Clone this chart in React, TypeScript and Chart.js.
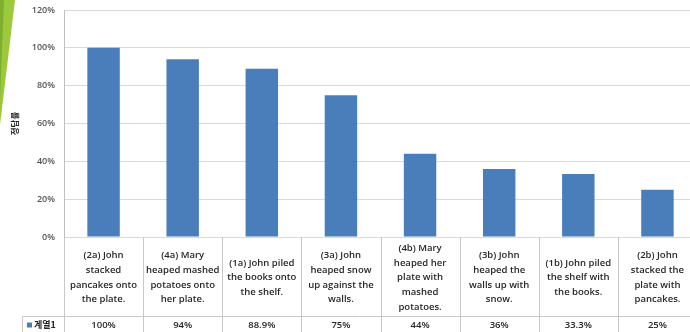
import React, { useEffect, useRef } from "react";
import { Chart, registerables } from "chart.js";

Chart.register(...registerables);

const categories: string[][] = [
  ["(2a) John", "stacked", "pancakes onto", "the plate."],
  ["(4a) Mary", "heaped mashed", "potatoes onto", "her plate."],
  ["(1a) John piled", "the books onto", "the shelf."],
  ["(3a) John", "heaped snow", "up against the", "walls."],
  ["(4b) Mary", "heaped her", "plate with", "mashed", "potatoes."],
  ["(3b) John", "heaped the", "walls up with", "snow."],
  ["(1b) John piled", "the shelf with", "the books."],
  ["(2b) John", "stacked the", "plate with", "pancakes."],
];
const values: number[] = [100, 94, 88.9, 75, 44, 36, 33.3, 25];
const valueLabels: string[] = ["100%", "94%", "88.9%", "75%", "44%", "36%", "33.3%", "25%"];
const seriesName = "계열1";
const axisTitle = "정답률";
const yTicks: number[] = [0, 20, 40, 60, 80, 100, 120];

const BAR = "#4a7ebb";
const LINE = "#c8c8c8";
const FONT = "'Open Sans', 'Noto Sans', sans-serif";

const decorPlugin = {
  id: "decor",
  beforeDraw(chart: any) {
    const ctx = chart.ctx;
    ctx.save();
    ctx.fillStyle = "#9cc83c";
    ctx.beginPath();
    ctx.moveTo(0, 0);
    ctx.lineTo(15, 0);
    ctx.lineTo(0, 125);
    ctx.closePath();
    ctx.fill();
    ctx.fillStyle = "#7fae2e";
    ctx.beginPath();
    ctx.moveTo(0, 0);
    ctx.lineTo(4, 0);
    ctx.lineTo(0, 100);
    ctx.closePath();
    ctx.fill();
    ctx.restore();
  },
};

const tablePlugin = {
  id: "dataTable",
  afterDraw(chart: any) {
    const ctx = chart.ctx;
    const x = chart.scales.x;
    const y = chart.scales.y;
    const n = categories.length;
    const w = (x.right - x.left) / n;
    const top = y.getPixelForValue(0);
    const sep = top + 79;
    const bottom = chart.height;
    ctx.save();
    ctx.strokeStyle = LINE;
    ctx.lineWidth = 1;
    ctx.beginPath();
    ctx.moveTo(22, Math.round(sep) + 0.5);
    ctx.lineTo(chart.width, Math.round(sep) + 0.5);
    ctx.stroke();
    ctx.beginPath();
    ctx.moveTo(22.5, Math.round(sep));
    ctx.lineTo(22.5, bottom);
    ctx.stroke();
    for (let i = 0; i <= n; i++) {
      const bx = Math.round(x.getPixelForValue(0) - w / 2 + i * w) + 0.5;
      ctx.beginPath();
      ctx.moveTo(bx, top);
      ctx.lineTo(bx, bottom);
      ctx.stroke();
    }
    ctx.fillStyle = "#262626";
    ctx.textAlign = "center";
    ctx.textBaseline = "middle";
    ctx.font = `600 9.5px ${FONT}`;
    const lh = 14.7;
    const midLabel = (top + sep) / 2 + 1;
    categories.forEach((lines, i) => {
      const cx = x.getPixelForValue(i);
      const start = midLabel - ((lines.length - 1) * lh) / 2;
      lines.forEach((ln, j) => ctx.fillText(ln, cx, start + j * lh));
      ctx.fillText(valueLabels[i], cx, (sep + bottom) / 2 + 1);
    });
    const ly = (sep + bottom) / 2 + 1;
    ctx.fillStyle = BAR;
    ctx.fillRect(27, ly - 2.5, 5, 5);
    ctx.fillStyle = "#262626";
    ctx.textAlign = "left";
    ctx.font = `600 9px 'Noto Sans CJK KR', ${FONT}`;
    ctx.fillText(seriesName, 34, ly);
    ctx.restore();
  },
};

export default function App() {
  const ref = useRef<HTMLCanvasElement>(null);
  useEffect(() => {
    if (!ref.current) return;
    const chart = new Chart(ref.current, {
      type: "bar",
      data: {
        labels: categories.map((c) => c.join(" ")),
        datasets: [
          {
            label: seriesName,
            data: values,
            backgroundColor: BAR,
            barPercentage: 0.41,
            categoryPercentage: 1,
          },
        ],
      },
      options: {
        responsive: false,
        animation: false,
        layout: { padding: { top: 10, bottom: 95, left: 0, right: 0 } },
        plugins: { legend: { display: false }, tooltip: { enabled: false } },
        scales: {
          x: { display: false },
          y: {
            min: 0,
            max: 120,
            afterFit: (s: any) => {
              s.width = 64;
              s.paddingTop = 0;
              s.paddingBottom = 0;
            },
            afterBuildTicks: (s: any) => {
              s.ticks = yTicks.map((v) => ({ value: v }));
            },
            ticks: {
              callback: (v: any) => v + "%",
              color: "#555555",
              padding: 9,
              font: { family: FONT, size: 9, weight: "600" },
            },
            grid: { color: "#d9d9d9", drawTicks: false },
            border: { color: "#bfbfbf" },
            title: {
              display: true,
              text: axisTitle,
              color: "#262626",
              padding: { top: 10, bottom: 0 },
              font: { family: "'Noto Sans CJK KR', sans-serif", size: 8.5, weight: "bold" },
            },
          },
        },
      },
      plugins: [decorPlugin, tablePlugin],
    });
    return () => chart.destroy();
  }, []);
  return (
    <div style={{ position: "absolute", left: 0, top: 0, width: 690, height: 332, overflow: "hidden", background: "#fff" }}>
      <canvas ref={ref} width={697} height={332} />
    </div>
  );
}
